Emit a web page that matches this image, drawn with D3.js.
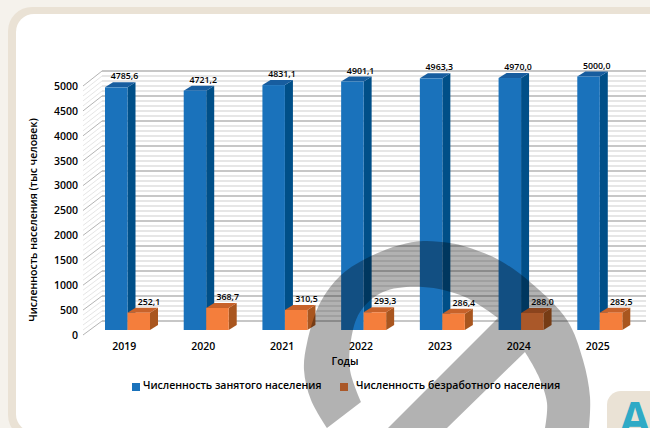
<!DOCTYPE html>
<html>
<head>
<meta charset="utf-8">
<script src="https://cdn.jsdelivr.net/npm/d3@7"></script>
<style>
  html, body { margin: 0; padding: 0; background: #f5f2ec; }
  svg { display: block; }
  text { font-family: "Open Sans", sans-serif; fill: #000; }
</style>
</head>
<body>
<script>
// values as labelled and bar heights as drawn (the labels do not match the orange bars' heights)
const years = ['2019', '2020', '2021', '2022', '2023', '2024', '2025']
const employed = [4785.6, 4721.2, 4831.1, 4901.1, 4963.3, 4970.0, 5000.0]
const unemployedLabels = ['252,1', '368,7', '310,5', '293,3', '286,4', '288,0', '285,5']
const unemployedDrawn = [341, 434, 395, 350, 322, 335, 341]
const yTicks = [0, 500, 1000, 1500, 2000, 2500, 3000, 3500, 4000, 4500, 5000]
const seriesNames = ['Численность занятого населения', 'Численность безработного населения']

const width = 650, height = 428
const dx = 8, dy = 5

const svg = d3.select('body').append('svg')
    .attr('width', width)
    .attr('height', height)

// page frame
svg.append('rect').attr('width', width).attr('height', height).attr('fill', '#f5f2ec')
svg.append('rect').attr('x', 8).attr('y', 7).attr('width', 680).attr('height', 432).attr('rx', 24).attr('fill', '#eae2d5')
svg.append('rect').attr('x', 16).attr('y', 14).attr('width', 660).attr('height', 418).attr('rx', 18).attr('fill', '#fff')

// scales
const x = d3.scaleBand().domain(years).range([83, 634])
const barStart = 22, barW = 22.5
const yBar = d3.scaleLinear().domain([0, 5000]).range([330, 76.5])
const yBack = d3.scaleLinear().domain([0, 5000]).range([321, 71])
const yFront = d3.scaleLinear().domain([0, 5000]).range([335, 86])

// back wall and side wall gridlines
const gridValues = d3.range(0, 5001, 100)
const grid = svg.append('g')
gridValues.forEach(v => {
    const major = v % 500 == 0
    grid.append('line')
        .attr('x1', 102).attr('x2', 646)
        .attr('y1', yBack(v)).attr('y2', yBack(v))
        .attr('stroke', major ? '#b4b4b4' : '#e6e6e6')
        .attr('stroke-width', major ? 1.3 : 1.8)
    grid.append('line')
        .attr('x1', 83).attr('x2', 102)
        .attr('y1', yFront(v)).attr('y2', yBack(v))
        .attr('stroke', major ? '#b4b4b4' : '#dedede')
        .attr('stroke-width', major ? 1 : 0.8)
})

function drawBar(x0, top, base, front, topColor, side) {
    const x1 = x0 + barW
    const line = d3.line()
    svg.append('path')
        .attr('d', line([[x1, top], [x1 + dx, top - dy], [x1 + dx, base - dy], [x1, base]]) + 'Z')
        .attr('fill', side)
    svg.append('path')
        .attr('d', line([[x0, top], [x0 + dx, top - dy], [x1 + dx, top - dy], [x1, top]]) + 'Z')
        .attr('fill', topColor)
    svg.append('rect')
        .attr('x', x0).attr('y', top)
        .attr('width', barW).attr('height', base - top)
        .attr('fill', front)
}

years.forEach((yr, i) => {
    const x0 = x(yr) + barStart
    drawBar(x0, yBar(employed[i]), yBar(0), '#1a72bb', '#175d9f', '#004f88')
    drawBar(x0 + barW, yBar(unemployedDrawn[i]), yBar(0), '#f47e3c', '#c8622a', '#a9561f')
})

// data labels
const labels = svg.append('g').attr('text-anchor', 'middle')
    .attr('font-size', 8.8).attr('font-weight', 600)
years.forEach((yr, i) => {
    const x0 = x(yr) + barStart
    labels.append('text')
        .attr('x', x0 + 19.5).attr('y', yBar(employed[i]) - 8)
        .text(employed[i].toFixed(1).replace('.', ','))
    labels.append('text')
        .attr('x', x0 + 44).attr('y', yBar(unemployedDrawn[i]) - 8)
        .text(unemployedLabels[i])
})

// axes
const yAxis = svg.append('g')
    .attr('transform', 'translate(82,0)')
    .call(d3.axisLeft(yFront).tickValues(yTicks).tickSize(0).tickPadding(4).tickFormat(d3.format('d')))
yAxis.select('.domain').remove()
yAxis.selectAll('text').attr('font-size', 10.5).attr('font-weight', 600)
    .style('font-family', '"Open Sans", sans-serif')

const xAxis = svg.append('g')
    .attr('transform', 'translate(1.5,343)')
    .call(d3.axisBottom(d3.scalePoint().domain(years).range([x('2019') + x.bandwidth() / 2, x('2025') + x.bandwidth() / 2 + 1]))
        .tickSize(0).tickPadding(0))
xAxis.select('.domain').remove()
xAxis.selectAll('text').attr('font-size', 10.5).attr('font-weight', 600)
    .style('font-family', '"Open Sans", sans-serif')

svg.append('text')
    .attr('transform', 'translate(37,220) rotate(-90)')
    .attr('text-anchor', 'middle')
    .attr('font-size', 10.5).attr('font-weight', 600)
    .text('Численность населения (тыс человек)')

svg.append('text')
    .attr('x', 345).attr('y', 365)
    .attr('text-anchor', 'middle')
    .attr('font-size', 10.5).attr('font-weight', 600)
    .text('Годы')

// legend (the second swatch sits under the grey logo, which darkens it)
const legendX = [132, 340]
const legendTextX = [143, 356]
const legendColors = ['#1a72bb', '#f47e3c']
seriesNames.forEach((name, i) => {
    svg.append('rect')
        .attr('x', legendX[i]).attr('y', 383)
        .attr('width', 8).attr('height', 8)
        .attr('fill', legendColors[i])
    svg.append('text')
        .attr('x', legendTextX[i]).attr('y', 389)
        .attr('font-size', 10.5).attr('font-weight', 600)
        .text(name)
})

// grey logo over the chart
const curve = d3.line().curve(d3.curveCatmullRom.alpha(0.5))
const outer = curve([[327, 428], [311, 400], [304, 370], [307, 343], [320, 303], [341, 275], [371, 256], [400, 245], [423, 241],
    [450, 243], [467, 247], [499, 260], [530, 282], [567, 320], [583, 360], [590, 397], [589, 428]])
const innerRight = curve([[545, 428], [547, 403], [538, 375], [525, 352]])
const innerTop = curve([[498, 318], [465, 297], [423, 287], [383, 292], [360, 312], [351, 340], [350, 370], [361, 402]])
svg.append('path')
    .attr('d', outer + 'L' + innerRight.slice(1) + 'L447,428L388,428L' + innerTop.slice(1) + 'Z')
    .attr('fill', '#000')
    .attr('fill-opacity', 0.3)

// corner badge
svg.append('rect').attr('x', 607).attr('y', 391).attr('width', 70).attr('height', 70).attr('rx', 14).attr('fill', '#eae2d5')
svg.append('text')
    .attr('x', 635).attr('y', 434)
    .attr('text-anchor', 'middle')
    .attr('font-size', 44).attr('font-weight', 700)
    .style('fill', '#2faac6')
    .text('A')
</script>
</body>
</html>
